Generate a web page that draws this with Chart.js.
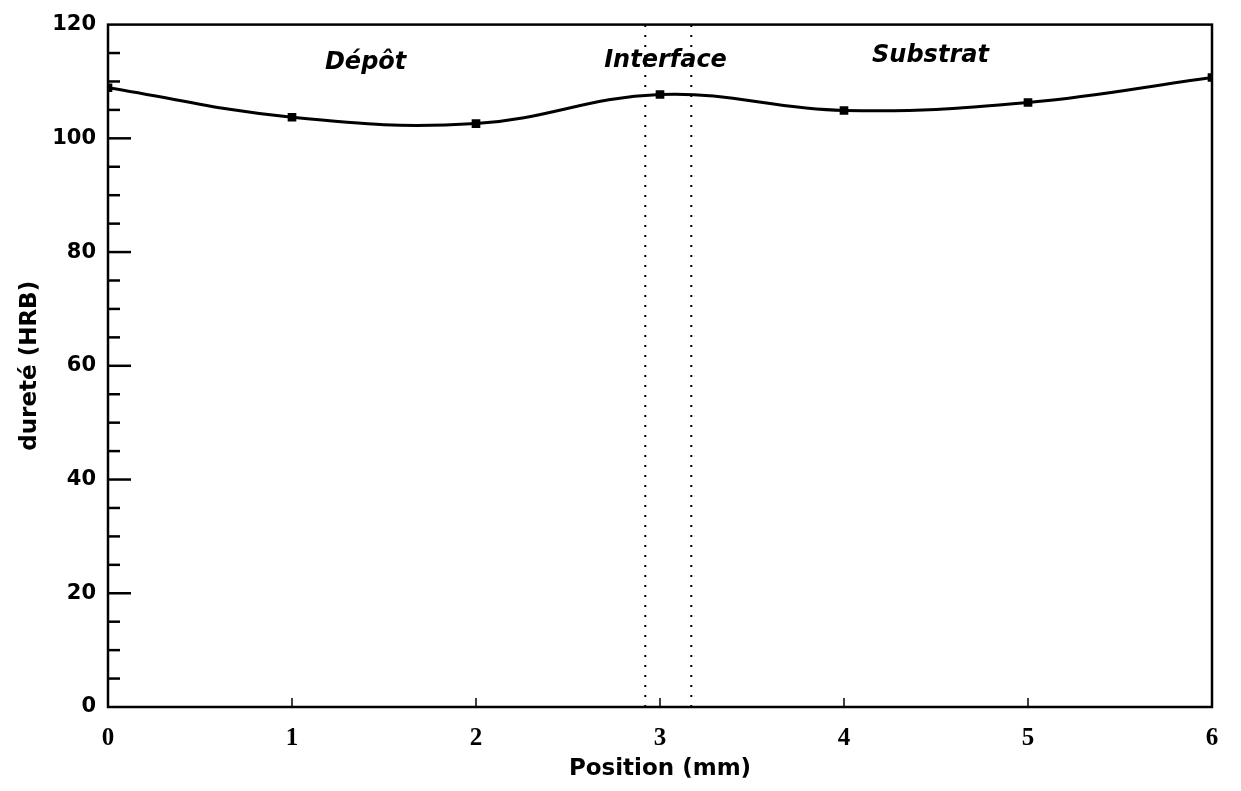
<!DOCTYPE html>
<html>
<head>
<meta charset="utf-8">
<script src="https://cdn.jsdelivr.net/npm/chart.js@4"></script>
<style>
  html, body { margin: 0; padding: 0; background: #fff; }
  #wrap { width: 1241px; height: 791px; }
</style>
</head>
<body>
<div id="wrap"><canvas id="hardnessChart"></canvas></div>
<script>
// Hardness profile
const positions = [0, 1, 2, 3, 4, 5, 6];
const hardness = [108.9, 103.7, 102.6, 107.7, 104.9, 106.3, 110.7];
// Interface boundaries (dotted verticals), in mm
const interfaceBounds = [2.92, 3.17];
// Zone labels and where they sit (data units)
const zoneNames = ["Dépôt", "Interface", "Substrat"];
const zoneX = [1.4, 3.03, 4.47];
const zoneY = [113.3, 113.6, 114.5];

// Frame, inward tick marks and zone labels
const decorPlugin = {
  id: "decor",
  afterDatasetsDraw(chart) {
    const { ctx, chartArea: a, scales } = chart;
    ctx.save();
    ctx.strokeStyle = "#000";
    ctx.lineWidth = 2.5;
    ctx.strokeRect(a.left, a.top, a.right - a.left, a.bottom - a.top);

    // y ticks: long every 20, short every 5
    ctx.lineWidth = 2.5;
    for (let v = 5; v < 120; v += 5) {
      const y = scales.y.getPixelForValue(v);
      const len = v % 20 === 0 ? 23 : 12;
      ctx.beginPath();
      ctx.moveTo(a.left, y);
      ctx.lineTo(a.left + len, y);
      ctx.stroke();
    }
    // x ticks: small marks pointing up
    ctx.lineWidth = 1.5;
    for (let v = 1; v < 6; v++) {
      const x = scales.x.getPixelForValue(v);
      ctx.beginPath();
      ctx.moveTo(x, a.bottom);
      ctx.lineTo(x, a.bottom - 9);
      ctx.stroke();
    }

    ctx.fillStyle = "#000";
    ctx.font = "italic bold 24px 'DejaVu Sans'";
    ctx.textAlign = "center";
    ctx.textBaseline = "middle";
    zoneNames.forEach((name, i) => {
      ctx.fillText(name, scales.x.getPixelForValue(zoneX[i]), scales.y.getPixelForValue(zoneY[i]));
    });
    ctx.restore();
  },
};

function boundaryDataset(x) {
  return {
    data: [{ x: x, y: 0 }, { x: x, y: 120 }],
    borderColor: "#000",
    borderWidth: 2,
    borderDash: [2, 8],
    pointRadius: 0,
    tension: 0,
  };
}

const ctx = document.getElementById("hardnessChart").getContext("2d");
new Chart(ctx, {
  type: "line",
  data: {
    datasets: [
      {
        data: positions.map((x, i) => ({ x: x, y: hardness[i] })),
        borderColor: "#000",
        backgroundColor: "#000",
        borderWidth: 3,
        tension: 0.4,
        pointStyle: "rect",
        pointRadius: 4,
      },
      boundaryDataset(interfaceBounds[0]),
      boundaryDataset(interfaceBounds[1]),
    ],
  },
  options: {
    responsive: true,
    maintainAspectRatio: false,
    animation: false,
    layout: { padding: { top: 22, right: 29, left: 0, bottom: 0 } },
    plugins: { legend: { display: false }, tooltip: { enabled: false } },
    scales: {
      x: {
        type: "linear",
        min: 0,
        max: 6,
        ticks: {
          stepSize: 1,
          color: "#000",
          padding: 17,
          font: { family: "Liberation Serif", weight: "bold", size: 25 },
        },
        grid: { drawOnChartArea: false, drawTicks: false },
        border: { display: false },
        title: {
          display: true,
          text: "Position (mm)",
          color: "#000",
          font: { family: "DejaVu Sans", weight: "bold", size: 23 },
          padding: { top: 0, bottom: 8 },
        },
        afterFit: (scale) => { scale.height = 84; },
      },
      y: {
        min: 0,
        max: 120,
        ticks: {
          stepSize: 20,
          color: "#000",
          padding: 12,
          font: { family: "DejaVu Sans", weight: "bold", size: 21 },
        },
        grid: { drawOnChartArea: false, drawTicks: false },
        border: { display: false },
        title: {
          display: true,
          text: "dureté (HRB)",
          color: "#000",
          font: { family: "DejaVu Sans", weight: "bold", size: 23 },
          padding: { top: 16, bottom: 0 },
        },
        afterFit: (scale) => { scale.width = 108; },
      },
    },
  },
  plugins: [decorPlugin],
});
</script>
</body>
</html>
